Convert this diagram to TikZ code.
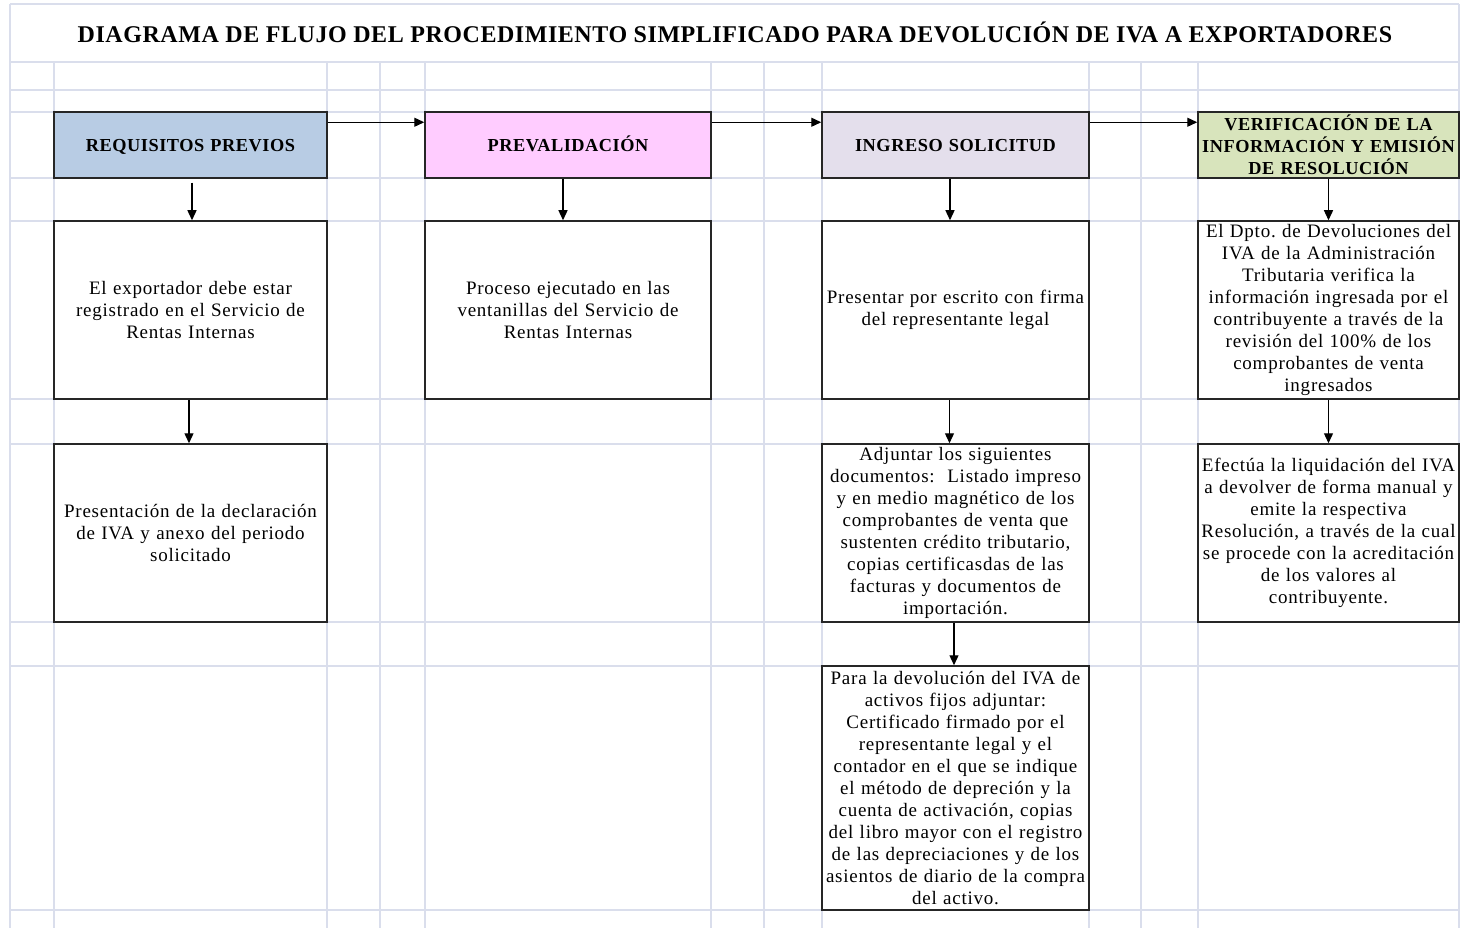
\documentclass[tikz,border=0pt]{standalone}
\usepackage{fontspec}
\setmainfont{Liberation Serif}[LetterSpace=4]
\newfontfamily\hdrfont{Liberation Serif}[LetterSpace=3]
\newfontfamily\titlefont{Liberation Serif}[LetterSpace=2.3]
\usetikzlibrary{arrows.meta,calc}
\definecolor{gridc}{RGB}{218,222,236}
\definecolor{reqc}{RGB}{184,204,228}
\definecolor{prevc}{RGB}{255,204,255}
\definecolor{ingc}{RGB}{228,223,236}
\definecolor{verc}{RGB}{216,228,188}
\definecolor{edgec}{RGB}{38,38,38}
\frenchspacing
\begin{document}
\begin{tikzpicture}[x=1pt,y=-1pt,
  gridline/.style={draw=gridc,line width=1.4pt},
  stepbox/.style={draw=edgec,line width=1.5pt,fill=white,inner sep=0pt,align=center,
    font=\fontsize{19}{22}\selectfont},
  hdr/.style={stepbox,font=\hdrfont\bfseries\fontsize{18.3}{22}\selectfont,minimum height=66pt},
  arr/.style={draw=black,line width=1.3pt,-{Triangle[length=10pt,width=9pt]}}]
\useasboundingbox (0,0) rectangle (1460,928);
\fill[white] (0,0) rectangle (1460,928);
% grid
\foreach \yy in {4,62,90,112,178,221,399,444,622,666,910}
  \draw[gridline] (10,\yy) -- (1459,\yy);
\draw[gridline] (10,4) -- (10,928);
\draw[gridline] (1459,4) -- (1459,928);
\foreach \xx in {54,327,380,425,711,764,822,1089,1141,1198}
  \draw[gridline] (\xx,62) -- (\xx,928);
% title
\node[font=\titlefont\bfseries\fontsize{24}{28}\selectfont,inner sep=0pt] (title) at (735,32)
  {DIAGRAMA DE FLUJO DEL PROCEDIMIENTO SIMPLIFICADO PARA DEVOLUCIÓN DE IVA A EXPORTADORES};
% headers
\node[hdr,fill=reqc,text width=273pt] (h1) at (190.5,145) {\vphantom{ÓQ}REQUISITOS PREVIOS};
\node[hdr,fill=prevc,text width=286pt] (h2) at (568,145) {\vphantom{ÓQ}PREVALIDACIÓN};
\node[hdr,fill=ingc,text width=267pt] (h3) at (955.5,145) {\vphantom{ÓQ}INGRESO SOLICITUD};
\node[hdr,fill=verc,text width=261pt] (h4) at (1328.5,145) {VERIFICACIÓN DE LA\\INFORMACIÓN Y EMISIÓN\\DE RESOLUCIÓN};
% row 2
\node[stepbox,text width=273pt,minimum height=178pt] (b1) at (190.5,310)
  {El exportador debe estar\\registrado en el Servicio de\\Rentas Internas};
\node[stepbox,text width=286pt,minimum height=178pt] (b2) at (568,310)
  {Proceso ejecutado en las\\ventanillas del Servicio de\\Rentas Internas};
\node[stepbox,text width=267pt,minimum height=178pt] (b3) at (955.5,310)
  {Presentar por escrito con firma\\del representante legal};
\node[stepbox,text width=261pt,minimum height=178pt] (b4) at (1328.5,310)
  {El Dpto. de Devoluciones del\\IVA de la Administración\\Tributaria verifica la\\información ingresada por el\\contribuyente a través de la\\revisión del 100\% de los\\comprobantes de venta\\ingresados};
% row 3
\node[stepbox,text width=273pt,minimum height=178pt] (c1) at (190.5,533)
  {Presentación de la declaración\\de IVA y anexo del periodo\\solicitado};
\node[stepbox,text width=267pt,minimum height=178pt] (c3) at (955.5,533)
  {Adjuntar los siguientes\\documentos:~ Listado impreso\\y en medio magnético de los\\comprobantes de venta que\\sustenten crédito tributario,\\copias certificasdas de las\\facturas y documentos de\\importación.};
\node[stepbox,text width=261pt,minimum height=178pt] (c4) at (1328.5,533)
  {Efectúa la liquidación del IVA\\a devolver de forma manual y\\emite la respectiva\\Resolución, a través de la cual\\se procede con la acreditación\\de los valores al\\contribuyente.};
% row 4
\node[stepbox,text width=267pt,minimum height=244pt] (d3) at (955.5,788)
  {Para la devolución del IVA de\\activos fijos adjuntar:\\Certificado firmado por el\\representante legal y el\\contador en el que se indique\\el método de depreción y la\\cuenta de activación, copias\\del libro mayor con el registro\\de las depreciaciones y de los\\asientos de diario de la compra\\del activo.};
% horizontal arrows
\draw[arr] ([yshift=-11pt]h1.north east) -- ([yshift=-11pt]h2.north west);
\draw[arr] ([yshift=-11pt]h2.north east) -- ([yshift=-11pt]h3.north west);
\draw[arr] ([yshift=-11pt]h3.north east) -- ([yshift=-11pt]h4.north west);
% vertical arrows
\draw[arr] ([xshift=1.5pt,yshift=-4pt]h1.south) -- ([xshift=1.5pt]b1.north);
\draw[arr] ([xshift=-1.5pt]b1.south) -- ([xshift=-1.5pt]c1.north);
\draw[arr] ([xshift=-5pt]h2.south) -- ([xshift=-5pt]b2.north);
\draw[arr] ([xshift=-5.5pt]h3.south) -- ([xshift=-5.5pt]b3.north);
\draw[arr] ([xshift=-6pt]b3.south) -- ([xshift=-6pt]c3.north);
\draw[arr] ([xshift=-1.5pt]c3.south) -- ([xshift=-1.5pt]d3.north);
\draw[arr] (h4.south) -- (b4.north);
\draw[arr] (b4.south) -- (c4.north);
\end{tikzpicture}
\end{document}
